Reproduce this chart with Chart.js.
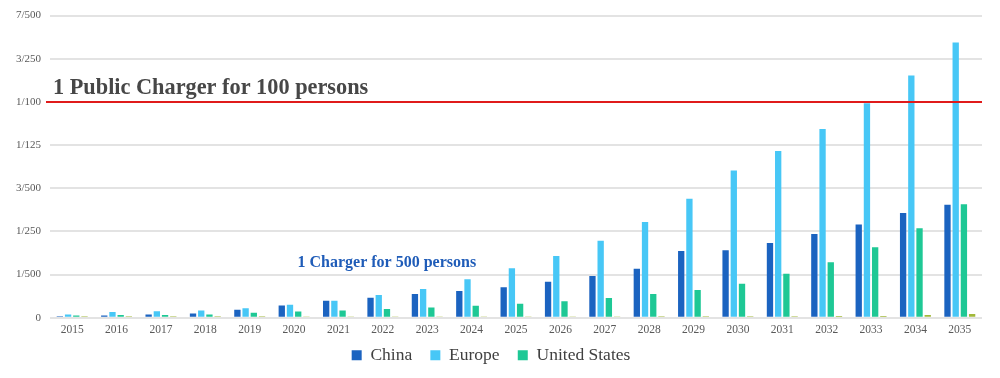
<!DOCTYPE html>
<html>
<head>
<meta charset="utf-8">
<script src="https://cdn.jsdelivr.net/npm/chart.js@4/dist/chart.umd.min.js"></script>
<style>
  html, body { margin: 0; padding: 0; background: #ffffff; }
  #wrap { width: 1000px; height: 378px; position: relative; }
</style>
</head>
<body>
<div id="wrap"><canvas id="c" width="1000" height="378"></canvas></div>
<script>
const years = ['2015','2016','2017','2018','2019','2020','2021','2022','2023','2024','2025','2026','2027','2028','2029','2030','2031','2032','2033','2034','2035'];
const china = [0.00007, 0.0001, 0.00015, 0.0002, 0.00037, 0.00056, 0.00078, 0.00093, 0.0011, 0.00124, 0.00141, 0.00167, 0.00193, 0.00227, 0.00309, 0.00313, 0.00346, 0.00388, 0.00432, 0.00485, 0.00523];
const europe = [0.00015, 0.00026, 0.0003, 0.00033, 0.00044, 0.0006, 0.00078, 0.00105, 0.00133, 0.00178, 0.00229, 0.00286, 0.00357, 0.00443, 0.00551, 0.00682, 0.00773, 0.00874, 0.00994, 0.01122, 0.01275];
const unitedStates = [0.0001, 0.00012, 0.00013, 0.00015, 0.00023, 0.00029, 0.00033, 0.0004, 0.00047, 0.00055, 0.00065, 0.00076, 0.00091, 0.0011, 0.00128, 0.00157, 0.00204, 0.00257, 0.00327, 0.00414, 0.00526];
const other = [0.00007, 0.00007, 0.00007, 0.00007, 0.00007, 0.00006, 0.00006, 0.00006, 0.00006, 0.00006, 0.00006, 0.00006, 0.00006, 0.00007, 0.00007, 0.00007, 0.00007, 0.00008, 0.00008, 0.00013, 0.00017];
const yTickValues = [0, 0.002, 0.004, 0.006, 0.008, 0.010, 0.012, 0.014];
const yTickLabels = ['0', '1/500', '1/250', '3/500', '1/125', '1/100', '3/250', '7/500'];
const refValue = 0.01;
const refText = '1 Public Charger for 100 persons';
const noteText = '1 Charger for 500 persons';
const noteYear = '2022';
const noteValue = 0.002;

const annotations = {
  id: 'annotations',
  afterDatasetsDraw(chart) {
    const ctx = chart.ctx, a = chart.chartArea;
    const ys = chart.scales.y, xs = chart.scales.x;
    const y = ys.getPixelForValue(refValue);
    ctx.save();
    ctx.strokeStyle = '#e01b1b';
    ctx.lineWidth = 2;
    ctx.beginPath();
    ctx.moveTo(a.left - 4, y);
    ctx.lineTo(a.right, y);
    ctx.stroke();
    ctx.fillStyle = '#474747';
    ctx.font = 'bold 22.3px "Liberation Serif"';
    ctx.textAlign = 'left';
    ctx.textBaseline = 'alphabetic';
    ctx.fillText(refText, a.left + 3, y - 8);
    const nx = xs.getPixelForValue(years.indexOf(noteYear)) + 4;
    const ny = ys.getPixelForValue(noteValue) - 8;
    ctx.fillStyle = '#1f5cb8';
    ctx.font = 'bold 16px "Liberation Serif"';
    ctx.textAlign = 'center';
    ctx.fillText(noteText, nx, ny);
    ctx.restore();
  }
};

new Chart(document.getElementById('c'), {
  type: 'bar',
  data: {
    labels: years,
    datasets: [
      { label: 'China', data: china, backgroundColor: '#1b63c0' },
      { label: 'Europe', data: europe, backgroundColor: '#47c7f6' },
      { label: 'United States', data: unitedStates, backgroundColor: '#1ec895' },
      { label: 'Other', data: other, backgroundColor: '#a2b83a' }
    ]
  },
  options: {
    responsive: false,
    animation: false,
    devicePixelRatio: 1,
    layout: { padding: { top: 5, right: 18, bottom: 4, left: 0 } },
    datasets: { bar: { categoryPercentage: 0.74, barPercentage: 0.77 } },
    scales: {
      x: {
        grid: { display: false, drawTicks: false },
        border: { display: false },
        ticks: { color: '#595959', font: { family: '"Liberation Serif"', size: 11.5 }, padding: 5, maxRotation: 0, autoSkip: false }
      },
      y: {
        min: 0, max: 0.014,
        afterBuildTicks(scale) { scale.ticks = yTickValues.map(v => ({ value: v })); },
        afterFit(scale) { scale.width = 50; },
        grid: { color: '#e3e3e3', lineWidth: 2, drawTicks: false },
        border: { display: false },
        ticks: {
          color: '#595959', padding: 9,
          font: { family: '"Liberation Serif"', size: 11 },
          callback(v) { const i = yTickValues.findIndex(t => Math.abs(t - v) < 1e-9); return i >= 0 ? yTickLabels[i] : ''; }
        }
      }
    },
    plugins: {
      legend: {
        position: 'bottom',
        labels: {
          color: '#404040',
          font: { family: '"Liberation Serif"', size: 17.5 },
          boxWidth: 10, boxHeight: 10, padding: 5,
          generateLabels(chart) {
            const items = Chart.defaults.plugins.legend.labels.generateLabels(chart).filter(l => l.text !== 'Other');
            return items.map((l, i) => Object.assign({}, l, { text: i < items.length - 1 ? l.text + '   ' : l.text }));
          }
        }
      },
      tooltip: { enabled: false },
      title: { display: false }
    }
  },
  plugins: [annotations]
});
</script>
</body>
</html>
